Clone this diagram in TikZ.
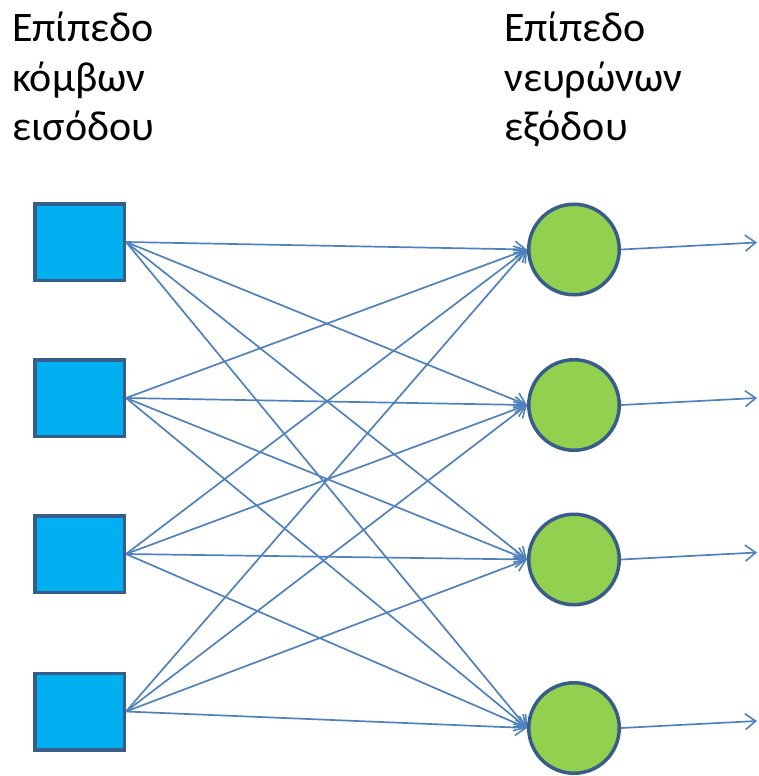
\documentclass[tikz,border=0pt]{standalone}
\usepackage{fontspec}
\setmainfont{Carlito}
\usetikzlibrary{arrows.meta}
\definecolor{sqfill}{HTML}{00B0F0}
\definecolor{cifill}{HTML}{92D050}
\definecolor{border}{HTML}{385D8A}
\definecolor{wire}{HTML}{4F81BD}
\tikzset{
  inbox/.style={draw=border, fill=sqfill, line width=3.5pt, minimum width=89.5pt, minimum height=76.5pt, inner sep=0pt},
  neuron/.style={draw=border, fill=cifill, line width=3.5pt, circle, minimum size=90.5pt, inner sep=0pt},
  label/.style={anchor=base west, inner sep=0pt, font=\fontsize{42}{48}\selectfont},
  conn/.style={draw=wire, line width=1.7pt, -{Straight Barb[length=10.5pt,width=16pt,line width=1.6pt]}}
}
\begin{document}
\begin{tikzpicture}[x=1pt,y=-1pt]
\useasboundingbox (0,0) rectangle (759,776);
% titles
\node[label] (l1) at (12,42) {Επίπεδο};
\node[label] (l2) at (12,91) {κόμβων};
\node[label] (l3) at (12,140) {εισόδου};
\node[label] (r1) at (504,42) {Επίπεδο};
\node[label] (r2) at (504,91) {νευρώνων};
\node[label] (r3) at (504,140) {εξόδου};
% input squares
\node[inbox] (s1) at (79.5,242) {};
\node[inbox] (s2) at (79.5,398) {};
\node[inbox] (s3) at (79.5,554) {};
\node[inbox] (s4) at (79.5,711.5) {};
% output neurons
\node[neuron] (c1) at (574,249.5) {};
\node[neuron] (c2) at (574,405) {};
\node[neuron] (c3) at (574,559.5) {};
\node[neuron] (c4) at (574,728) {};
% free ends
\coordinate (o1) at (757,242.5);
\coordinate (o2) at (757,398);
\coordinate (o3) at (757,552.5);
\coordinate (o4) at (757,721);
% connections
\foreach \i in {1,...,4}{
  \foreach \j in {1,...,4}{
    \draw[conn] (s\i.east) -- (c\j.west);
  }
  \draw[conn] (c\i.east) -- (o\i);
}
\end{tikzpicture}
\end{document}
